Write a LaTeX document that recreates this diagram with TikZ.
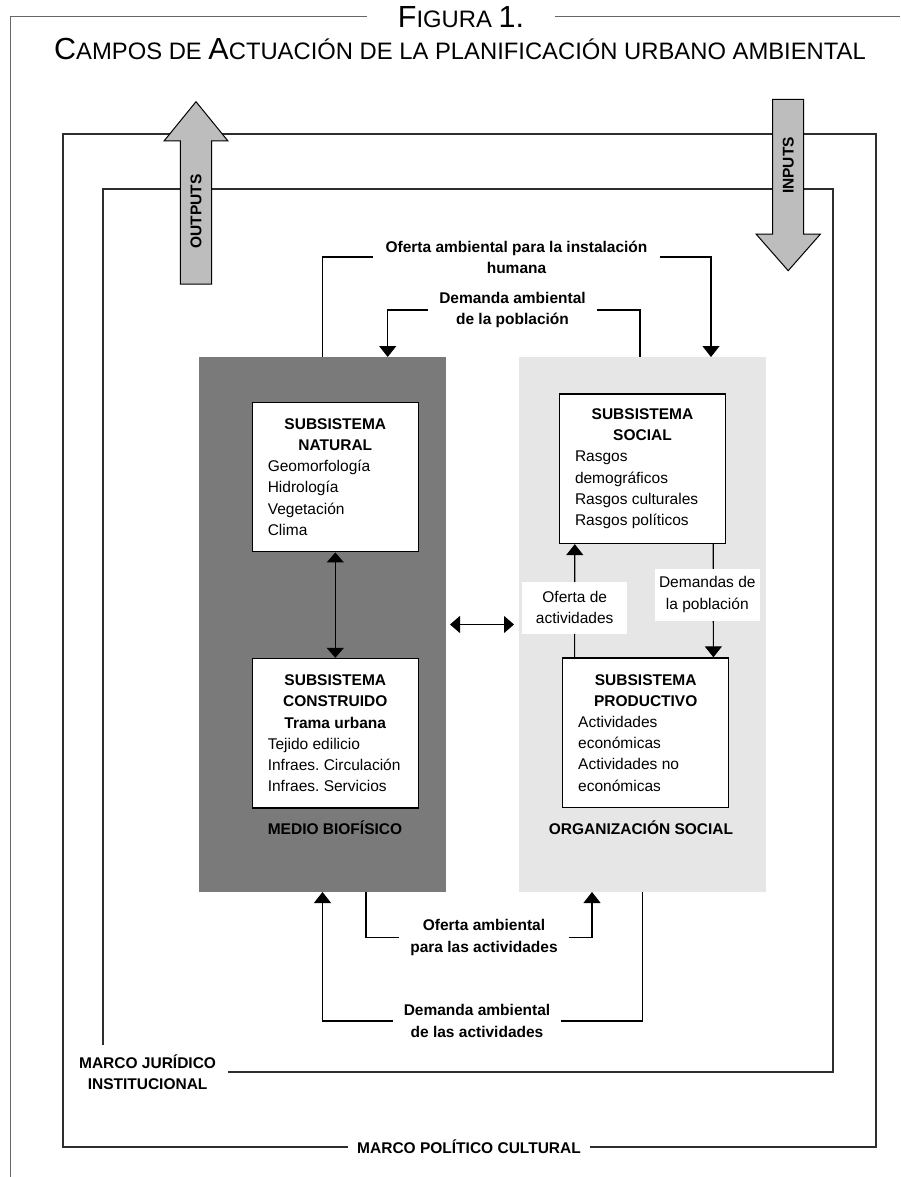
\documentclass[tikz,border=0pt]{standalone}
\usepackage{fontspec}
\setmainfont{Liberation Sans}
\usepackage{tikz}
\usetikzlibrary{arrows.meta, positioning, calc}

\definecolor{biogray}{HTML}{7A7A7A}
\definecolor{socgray}{HTML}{E6E6E6}
\definecolor{arrowgray}{HTML}{BDBDBD}
\definecolor{framegray}{HTML}{2E2E2E}

\newcommand{\dfont}{\fontsize{15.5}{21.2}\selectfont}
\newcommand{\capbig}{\fontsize{30.5}{32}\selectfont}
\newcommand{\capsmall}{\fontsize{23.8}{25}\selectfont}
\newcommand{\hd}[1]{\hfill\textbf{#1}\hfill\null}

\begin{document}
\begin{tikzpicture}[x=1pt, y=-1pt,
    every node/.style={font=\dfont},
    frameline/.style={line width=1.3pt, draw=framegray},
    plainlink/.style={line width=1.2pt},
    link/.style={line width=1.2pt, -{Triangle[width=17pt,length=11pt]}},
    bilink/.style={line width=1.2pt, {Triangle[width=17pt,length=10pt]}-{Triangle[width=17pt,length=10pt]}},
    bigbox/.style={minimum width=247pt, minimum height=535pt, inner sep=0pt, outer sep=0pt},
    subbox/.style={draw, line width=1.4pt, fill=white, minimum width=166pt,
                   minimum height=149.5pt, text width=135pt, inner xsep=15.5pt, align=flush left},
    flowlabel/.style={font=\dfont\bfseries, align=center, inner xsep=11pt},
    midlabel/.style={fill=white, minimum width=105pt, minimum height=52pt, align=center, inner sep=0pt},
    bigarrow/.style={fill=arrowgray, draw=black, line width=1pt}]
    \useasboundingbox (0,0) rectangle (900,1177);
    \fill[white] (0,0) rectangle (900,1177);

    % heading
    \node[anchor=base, inner xsep=31pt, inner ysep=0pt] (fig) at (461,27.3)
          {{\capbig F}{\capsmall IGURA }{\capbig 1.}};
    \node[anchor=base] (title) at (460,60)
          {{\capbig C}{\capsmall AMPOS DE }{\capbig A}{\capsmall CTUACIÓN DE LA PLANIFICACIÓN URBANO AMBIENTAL}};
    \coordinate (pagebl) at (10,1177);
    \coordinate (pagebr) at (900,1177);
    \draw[line width=1pt, draw=gray!80!black] (fig.west) -| (pagebl);
    \draw[line width=1pt, draw=gray!80!black] (fig.east) -- (fig.east -| pagebr);

    % frames: marco politico cultural / marco juridico institucional
    \node[flowlabel, inner xsep=9pt] (pol) at (469,1147) {MARCO POLÍTICO CULTURAL};
    \node[flowlabel, inner xsep=11.5pt, inner ysep=9pt] (jur) at (147.6,1072)
          {MARCO JURÍDICO\\INSTITUCIONAL};
    \coordinate (otl) at (63,134);
    \coordinate (otr) at (876,134);
    \coordinate (itl) at (103,189);
    \coordinate (itr) at (833,189);
    \draw[frameline] (pol.west) -| (otl) -- (otr) |- (pol.east);
    \draw[frameline] (jur.east) -| (itr) -- (itl) -- (itl |- jur.north);

    % outputs / inputs
    \draw[bigarrow] (180.3,284) -- (180.3,141) -- (164,141) -- (196,101.7)
          -- (228,141) -- (211.7,141) -- (211.7,284) -- cycle;
    \node[font=\dfont\bfseries, rotate=90] (outtxt) at (196,211.5) {OUTPUTS};
    \draw[bigarrow] (772.7,99.3) -- (803.7,99.3) -- (803.7,234) -- (820.5,234)
          -- (788.2,270.7) -- (756,234) -- (772.7,234) -- cycle;
    \node[font=\dfont\bfseries, rotate=90] (intxt) at (788.2,165.5) {INPUTS};

    % medio biofisico / organizacion social
    \node[bigbox, fill=biogray] (bio) at (322.5,624.5) {};
    \node[bigbox, fill=socgray] (org) at (642.5,624.5) {};
    \node[font=\dfont\bfseries] (biolab) at (335,828) {MEDIO BIOFÍSICO};
    \node[font=\dfont\bfseries] (orglab) at (641,828) {ORGANIZACIÓN SOCIAL};

    % subsistemas
    \node[subbox] (nat) at (335.3,477)
          {\hd{SUBSISTEMA}\\\hd{NATURAL}\\Geomorfología\\Hidrología\\Vegetación\\Clima};
    \node[subbox] (con) at (335.3,733.3)
          {\hd{SUBSISTEMA}\\\hd{CONSTRUIDO}\\\hd{Trama urbana}\\Tejido edilicio\\Infraes.~Circulación\\Infraes.~Servicios};
    \node[subbox] (soc) at (642.5,468.7)
          {\hd{SUBSISTEMA}\\\hd{SOCIAL}\\Rasgos\\demográficos\\Rasgos culturales\\Rasgos políticos};
    \node[subbox] (prod) at (645.7,732.8)
          {\hd{SUBSISTEMA}\\\hd{PRODUCTIVO}\\Actividades\\económicas\\Actividades no\\económicas};

    \draw[bilink] (nat) -- (con);
    \draw[bilink, shorten <=4pt, shorten >=5pt] (bio.east) -- (org.west);
    \draw[link] ([xshift=12.6pt]prod.north west) -- ([xshift=16pt]soc.south west)
          node[midlabel, pos=0.44] (ofl) {Oferta de\\actividades};
    \draw[link] ([xshift=-13pt]soc.south east) -- ([xshift=-16pt]prod.north east)
          node[midlabel, pos=0.445, xshift=-6pt] (dml) {Demandas de\\la población};

    % flows above
    \node[flowlabel, inner xsep=12pt] (ofi) at (516.5,257) {Oferta ambiental para la instalación\\humana};
    \node[flowlabel] (dem) at (512.5,310) {Demanda ambiental\\de la población};
    \draw[plainlink] (bio.north) |- (ofi.west);
    \draw[link] (ofi.east) -| ([xshift=192pt]org.north west);
    \draw[link] (dem.west) -| ([xshift=188.7pt]bio.north west);
    \draw[plainlink] (dem.east) -| ([xshift=-2.5pt]org.north);

    % flows below
    \node[flowlabel] (ofa) at (484,937.5) {Oferta ambiental\\para las actividades};
    \node[flowlabel] (dea) at (477,1021) {Demanda ambiental\\de las actividades};
    \draw[plainlink] ([xshift=167pt]bio.south west) |- (ofa.west);
    \draw[link] (ofa.east) -| ([xshift=73pt]org.south west);
    \draw[link] (dea.west) -| (bio.south);
    \draw[plainlink] (dea.east) -| (org.south);
\end{tikzpicture}
\end{document}
